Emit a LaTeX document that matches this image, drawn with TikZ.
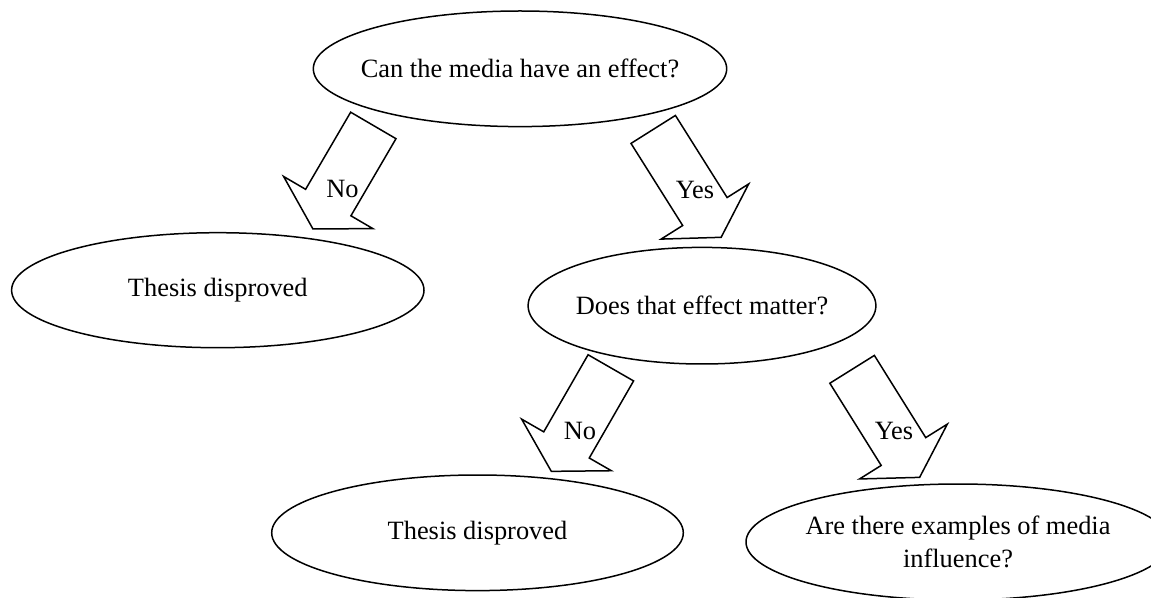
\documentclass[tikz,border=0pt]{standalone}
\usepackage{fontspec}
\setmainfont{Liberation Serif}
\usetikzlibrary{shapes.geometric,shapes.arrows}
\begin{document}
\begin{tikzpicture}[x=0.5pt,y=0.5pt,
  txtfont/.style={font=\fontsize{13.2}{16.5}\selectfont},
  oval/.style={ellipse, draw, line width=0.75pt, inner xsep=-40pt, inner ysep=0pt, align=center, txtfont},
  blockarrow/.style={single arrow, draw, line width=0.75pt, minimum width=51pt,
    single arrow head extend=12.75pt, single arrow tip angle=119, inner xsep=0pt, inner ysep=12.75pt, anchor=tail},
  lbl/.style={inner sep=0pt, anchor=base, txtfont}]
\useasboundingbox (0,0) rectangle (1151,-598);
\begin{scope}
\clip (0,0) rectangle (1151,-598);
\node[oval, minimum width=206.7pt, minimum height=57.8pt] (q1) at (520,-68.8) {Can the media have an effect?};
\node[oval, minimum width=206.2pt, minimum height=57.5pt] (d1) at (217.8,-290.2) {Thesis disproved};
\node[oval, minimum width=173.9pt, minimum height=58.3pt] (q2) at (702,-305.7) {Does that effect matter?};
\node[oval, minimum width=205.8pt, minimum height=57.8pt] (d2) at (477.5,-532.8) {Thesis disproved};
\node[oval, minimum width=212pt, minimum height=58pt] (q3) at (958,-542) {Are there examples of media\\influence?};
\node[blockarrow, minimum height=59.9pt, rotate=-120.3] (a1) at (373.7,-124.8) {};
\node[blockarrow, minimum height=63.75pt, rotate=-57.8] (a2) at (652.8,-128.8) {};
\node[blockarrow, minimum height=59.7pt, rotate=-119.9] (a3) at (611.2,-367.2) {};
\node[blockarrow, minimum height=63.7pt, rotate=-58] (a4) at (851.7,-368.7) {};
\node[lbl] (n1) at (342.5,-197.5) {No};
\node[lbl] (y1) at (695,-198.5) {Yes};
\node[lbl] (n2) at (580,-439.3) {No};
\node[lbl] (y2) at (894,-439.3) {Yes};
\end{scope}
\end{tikzpicture}
\end{document}
